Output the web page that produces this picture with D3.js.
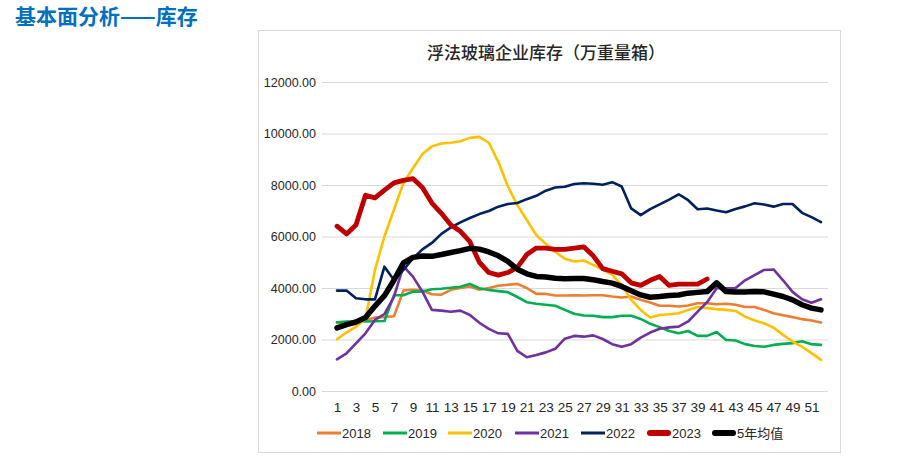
<!DOCTYPE html>
<html><head><meta charset="utf-8">
<script src="https://cdn.jsdelivr.net/npm/d3@7"></script>
<style>
body{margin:0;background:#fff;}
svg text{font-family:"Liberation Sans","Noto Sans CJK SC",Arial,sans-serif;}
</style></head>
<body><svg id="c" width="917" height="458"></svg>
<script>
const weeks = d3.range(1, 53);
const xTickLabels = d3.range(1, 52, 2);
const yTickValues = [0, 2000, 4000, 6000, 8000, 10000, 12000];
const seriesNames = ["2018","2019","2020","2021","2022","2023","5年均值"];
const seriesColors = ["#ED7D31","#00B050","#FFC000","#7030A0","#002060","#C00000","#000000"];

const v2018 = [2650,2650,2700,2750,2850,2880,2900,3900,3930,3900,3760,3740,3930,4000,4060,3930,4000,4085,4125,4160,4000,3770,3770,3710,3710,3720,3710,3720,3720,3670,3630,3670,3540,3440,3310,3310,3280,3320,3410,3410,3370,3390,3350,3260,3260,3150,3020,2940,2870,2790,2740,2660];
const v2019 = [2670,2700,2700,2700,2710,2720,3720,3720,3860,3860,3950,3970,4010,4050,4160,3990,3920,3880,3840,3650,3450,3390,3350,3310,3150,3000,2930,2920,2870,2870,2920,2920,2800,2610,2480,2330,2240,2330,2140,2140,2290,1980,1960,1820,1750,1720,1790,1830,1860,1930,1820,1790];
const v2020 = [2010,2270,2500,2800,4700,6000,7040,8080,8650,9200,9500,9610,9640,9700,9830,9870,9640,8900,7950,7220,6640,6060,5720,5400,5140,5030,5070,4900,4710,4510,4120,3540,3150,2850,2950,2980,3020,3150,3260,3220,3180,3150,3110,2890,2740,2630,2460,2180,1920,1720,1470,1210];
const v2021 = [1230,1460,1850,2240,2760,2990,3660,4850,4440,3860,3150,3120,3080,3120,2950,2650,2410,2240,2220,1560,1310,1400,1500,1640,2030,2140,2110,2160,2020,1820,1720,1820,2070,2270,2420,2470,2500,2700,3080,3450,3990,3990,4000,4300,4500,4700,4720,4300,3850,3560,3430,3560];
const v2022 = [3900,3900,3600,3560,3560,4830,4310,4700,5150,5500,5750,6100,6350,6550,6720,6870,6990,7160,7260,7300,7450,7580,7780,7900,7930,8040,8070,8050,8010,8110,7940,7090,6830,7060,7250,7430,7640,7410,7060,7090,7010,6940,7070,7170,7290,7240,7160,7260,7260,6920,6750,6560];
const v2023 = [6400,6100,6450,7600,7500,7800,8080,8180,8250,7900,7300,6900,6450,6200,5800,5000,4600,4500,4600,4800,5300,5550,5550,5500,5500,5550,5600,5250,4750,4650,4550,4200,4100,4300,4450,4100,4150,4150,4150,4350];
const vAvg = [2450,2580,2680,2850,3300,3700,4300,4980,5190,5240,5230,5300,5380,5450,5540,5510,5400,5250,5030,4730,4550,4450,4430,4380,4360,4370,4370,4320,4250,4190,4060,3890,3730,3640,3670,3710,3730,3800,3830,3860,4200,3860,3840,3840,3860,3850,3760,3670,3540,3350,3220,3150];

const seriesValues = [v2018, v2019, v2020, v2021, v2022, v2023, vAvg];
const seriesWidths = [2.6, 2.6, 2.6, 2.6, 2.6, 4.8, 5.5];

const svg = d3.select("#c");

// page heading
svg.append("text").attr("x", 15).attr("y", 24)
  .attr("font-size", 21).attr("font-weight", "bold").attr("fill", "#0070C0")
  .style("font-family", '"Noto Sans CJK SC",sans-serif')
  .text("基本面分析——库存");

// chart frame
svg.append("rect").attr("x", 258.5).attr("y", 30.5).attr("width", 582).attr("height", 422)
  .attr("fill", "#fff").attr("stroke", "#d9d9d9").attr("stroke-width", 1);

svg.append("text").attr("x", 546).attr("y", 59).attr("text-anchor", "middle")
  .attr("font-size", 17).attr("fill", "#262626").attr("font-weight", "500")
  .style("font-family", '"Noto Sans CJK SC",sans-serif')
  .text("浮法玻璃企业库存（万重量箱）");

const x = d3.scaleLinear().domain([1, 52]).range([337, 821]);
const y = d3.scaleLinear().domain([0, 12000]).range([391, 82]);

const gy = svg.append("g").attr("transform", "translate(322,0)")
  .call(d3.axisLeft(y).tickValues(yTickValues).tickFormat(d3.format(".2f"))
    .tickSizeInner(-506).tickSizeOuter(0).tickPadding(6));
gy.select(".domain").remove();
gy.selectAll("line").attr("stroke", "#d9d9d9").attr("stroke-width", 1);
gy.selectAll("text").attr("font-size", 12.5).attr("fill", "#262626");

const gx = svg.append("g").attr("transform", "translate(0,391)")
  .call(d3.axisBottom(x).tickValues(xTickLabels).tickFormat(d3.format("d"))
    .tickSize(0).tickPadding(11));
gx.select(".domain").remove();
gx.selectAll("text").attr("font-size", 13.5).attr("fill", "#262626");

const line = d3.line().x((d, i) => x(weeks[i])).y(d => y(d)).curve(d3.curveLinear);

seriesValues.forEach((vals, k) => {
  svg.append("path").datum(vals)
    .attr("fill", "none").attr("stroke", seriesColors[k])
    .attr("stroke-width", seriesWidths[k])
    .attr("stroke-linejoin", "round").attr("stroke-linecap", "round")
    .attr("d", line);
});

// legend
const legendX = [317, 383, 448, 515, 581, 647, 712];
const lg = svg.append("g");
seriesNames.forEach((n, k) => {
  const thick = seriesWidths[k] > 3;
  lg.append("line").attr("x1", legendX[k] + (thick ? 3 : 0)).attr("x2", legendX[k] + 24 - (thick ? 3 : 0))
    .attr("y1", 433).attr("y2", 433)
    .attr("stroke", seriesColors[k]).attr("stroke-width", thick ? 6 : 3)
    .attr("stroke-linecap", thick ? "round" : "butt");
  lg.append("text").attr("x", legendX[k] + 25).attr("y", 437.5)
    .attr("font-size", 13).attr("fill", "#262626")
    .style("font-family", '"Liberation Sans","Noto Sans CJK SC",sans-serif')
    .text(n);
});
</script></body></html>
